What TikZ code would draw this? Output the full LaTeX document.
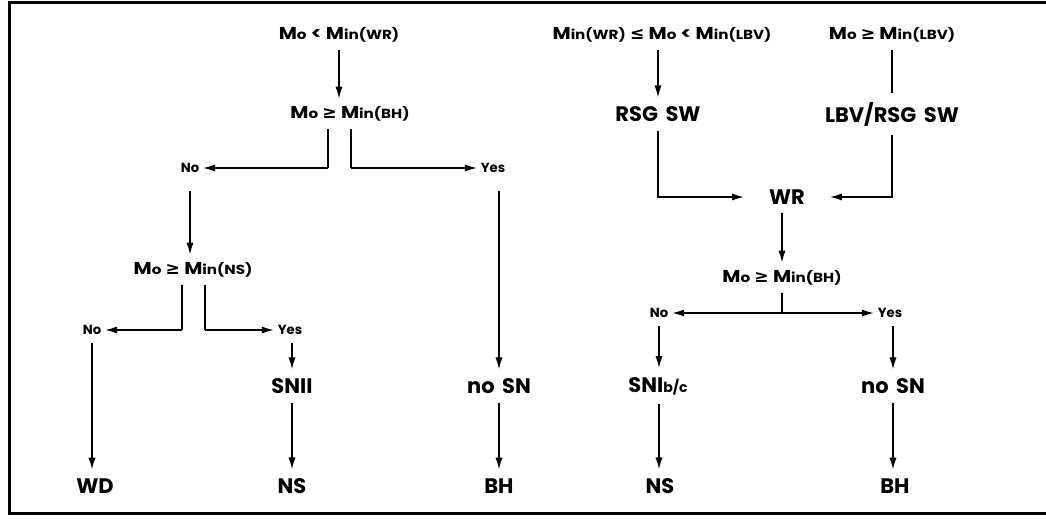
\documentclass[tikz,border=0pt]{standalone}
\usepackage{fontspec}
\setmainfont{Poppins}[WordSpace=1.7]
\newfontfamily\condf{Poppins}[FakeStretch=1.15]
\newfontfamily\symf{DejaVu Sans}
\usetikzlibrary{arrows.meta}
\newcommand\Ms[1]{M{\fontsize{6.6}{7}\selectfont #1}}
\newcommand\GEs{{\symf\bfseries ≥}}
\newcommand\LEs{{\symf\bfseries ≤}}
\begin{document}
\begin{tikzpicture}[x=0.5pt,y=-0.5pt,
 lab/.style={font=\fontsize{10.5}{13}\selectfont\bfseries, inner sep=0pt, outer sep=4.5pt},
 cond/.style={font=\condf\fontsize{8.6}{10}\selectfont\bfseries, inner sep=0pt, outer sep=4pt},
 yn/.style={font=\fontsize{6.6}{8}\selectfont\bfseries, inner sep=0pt, outer sep=2pt},
 arr/.style={line width=0.8pt, -{Latex[length=6pt,width=3.6pt]}},
 ln/.style={line width=0.8pt}]
\useasboundingbox (0,0) rectangle (1046,520);
\draw[line width=1.5pt] (1046,2) -- (9.5,2) -- (9.5,513) -- (1046,513);

% left tree
\node[cond] (t1) at (339,35) {\Ms{o} < \Ms{in(WR)}};
\node[cond] (t2) at (350,114) {\Ms{o} \GEs{} \Ms{in(BH)}};
\node[yn] (no1) at (190,168) {No};
\node[yn] (yes1) at (493,168) {Yes};
\node[cond] (t4) at (193,270) {\Ms{o} \GEs{} \Ms{in(NS)}};
\node[yn] (no2) at (92,330) {No};
\node[yn] (yes2) at (290,330) {Yes};
\node[lab] (wd) at (95,486) {WD};
\node[lab] (snii) at (292,386) {SNII};
\node[lab] (ns1) at (292,486) {NS};
\node[lab] (nosn1) at (499,386) {no SN};
\node[lab] (bh1) at (499,486) {BH};
\coordinate (b1) at (328,168);
\coordinate (b2) at (351,168);
\coordinate (c1) at (182,330);
\coordinate (c2) at (205,330);

\draw[arr] (t1) -- (t1 |- t2.north);
\draw[ln] (t2.south -| b1) -- (b1);
\draw[arr] (b1) -- (no1);
\draw[ln] (t2.south -| b2) -- (b2);
\draw[arr] (b2) -- (yes1);
\draw[arr, shorten <=7pt] (no1) -- (no1 |- t4.north);
\draw[ln] (t4.south -| c1) -- (c1);
\draw[arr] (c1) -- (no2);
\draw[ln] (t4.south -| c2) -- (c2);
\draw[arr] (c2) -- (yes2);
\draw[arr, shorten <=2pt] (no2) -- (no2 |- wd.north);
\draw[arr, shorten <=2pt] (yes2.south -| snii) -- (snii);
\draw[arr] (snii) -- (ns1);
\draw[arr, shorten <=7pt] (yes1.south -| nosn1) -- (nosn1);
\draw[arr] (nosn1) -- (bh1);

% right tree
\node[cond] (t3) at (662,35) {\Ms{in(WR)} \LEs{} \Ms{o} < \Ms{in(LBV)}};
\node[cond] (t5) at (892,35) {\Ms{o} \GEs{} \Ms{in(LBV)}};
\node[lab] (rsg) at (658,114) {RSG SW};
\node[lab] (lbv) at (892,114) {LBV/RSG SW};
\node[lab, inner xsep=8pt] (wr) at (787,197) {WR};
\node[cond] (t6) at (782,278) {\Ms{o} \GEs{} \Ms{in(BH)}};
\coordinate (e) at (782,313);
\node[yn] (no3) at (659,313) {No};
\node[yn] (yes3) at (890,313) {Yes};
\node[lab] (snibc) at (658,386) {SNI{\fontsize{7}{8}\selectfont b/c}};
\node[lab] (ns2) at (660,486) {NS};
\node[lab] (nosn2) at (893,386) {no SN};
\node[lab] (bh2) at (895,486) {BH};

\draw[arr] (t3.south -| rsg) -- (rsg);
\draw[ln] (t5) -- (lbv);
\draw[arr] (rsg) |- (wr);
\draw[arr] (lbv) |- (wr);
\draw[arr] (wr.south -| t6) -- (t6);
\draw[ln] (t6) -- (e);
\draw[arr] (e) -- (no3);
\draw[arr] (e) -- (yes3);
\draw[arr, shorten <=2pt] (no3) -- (no3 |- snibc.north);
\draw[arr] (snibc.south -| no3) -- (no3 |- ns2.north);
\draw[arr, shorten <=2pt] (yes3.south -| nosn2) -- (nosn2);
\draw[arr] (nosn2) -- (nosn2 |- bh2.north);
\end{tikzpicture}
\end{document}
